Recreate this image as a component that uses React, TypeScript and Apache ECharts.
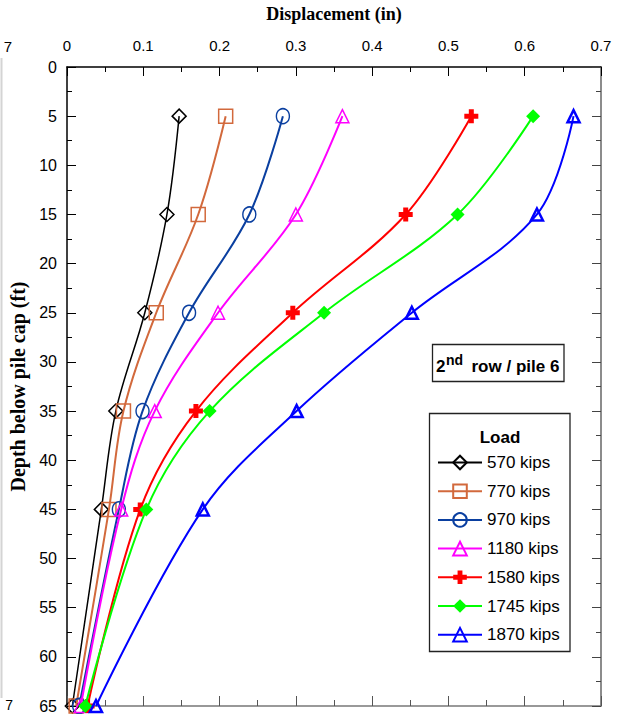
import React, { useEffect, useRef } from "react";
import * as echarts from "echarts";

const depths = [5, 15, 25, 35, 45, 65];
const d570 = [0.147, 0.131, 0.102, 0.064, 0.045, 0.007];
const d770 = [0.208, 0.172, 0.117, 0.074, 0.055, 0.012];
const d970 = [0.283, 0.239, 0.160, 0.099, 0.068, 0.016];
const d1180 = [0.361, 0.300, 0.198, 0.115, 0.071, 0.018];
const d1580 = [0.530, 0.444, 0.296, 0.169, 0.096, 0.027];
const d1745 = [0.611, 0.512, 0.337, 0.187, 0.104, 0.024];
const d1870 = [0.664, 0.616, 0.452, 0.301, 0.178, 0.038];
const loadNames = ["570 kips", "770 kips", "970 kips", "1180 kips", "1580 kips", "1745 kips", "1870 kips"];

const PLUS = "path://M4.5,0H9.5V4.5H14V9.5H9.5V14H4.5V9.5H0V4.5H4.5Z";

const SANS = "'Liberation Sans', Arial, sans-serif";
const SERIF = "'Liberation Serif', 'Times New Roman', serif";

export default function App() {
  const ref = useRef<HTMLDivElement>(null);
  useEffect(() => {
    const chart = echarts.init(ref.current!, null, { renderer: "svg" });
    const defs = [
      { vals: d570, color: "#000000", symbol: "diamond", size: [14, 14], fill: "transparent", bw: 1.5, lw: 1.5 },
      { vals: d770, color: "#D2693C", symbol: "rect", size: [14, 14], fill: "transparent", bw: 1.5, lw: 2 },
      { vals: d970, color: "#0A3FA0", symbol: "circle", size: [13, 15], fill: "transparent", bw: 1.5, lw: 2 },
      { vals: d1180, color: "#FF00FF", symbol: "triangle", size: [13, 13], fill: "transparent", bw: 1.5, lw: 2 },
      { vals: d1580, color: "#FF0000", symbol: PLUS, size: [14, 14], fill: "#FF0000", bw: 0, lw: 2 },
      { vals: d1745, color: "#00FF00", symbol: "diamond", size: [14, 14], fill: "#00FF00", bw: 0, lw: 2 },
      { vals: d1870, color: "#0000FF", symbol: "triangle", size: [12, 12], fill: "transparent", bw: 2.5, lw: 2 },
    ];
    const series = defs.map((d, i) => ({
      type: "line",
      name: loadNames[i],
      xAxisIndex: 0,
      yAxisIndex: 0,
      data: depths.map((dep, j) => [d.vals[j], dep]),
      smooth: 0.35,
      symbol: d.symbol,
      symbolSize: d.size,
      showAllSymbol: true,
      lineStyle: { color: d.color, width: d.lw },
      itemStyle: { color: d.fill, borderColor: d.color, borderWidth: d.bw },
      z: 3 + i,
    }));

    const tickCommon = {
      splitLine: { show: false },
      minorSplitLine: { show: false },
    };

    chart.setOption({
      animation: false,
      backgroundColor: "#ffffff",
      grid: { left: 67, right: 17, top: 67, bottom: 2, containLabel: false },
      xAxis: [
        {
          type: "value",
          position: "top",
          min: 0,
          max: 0.7,
          interval: 0.1,
          name: "Displacement (in)",
          nameLocation: "middle",
          nameGap: 44,
          nameTextStyle: { fontFamily: SERIF, fontWeight: "bold", fontSize: 18, color: "#000" },
          axisLine: { show: true, onZero: false, lineStyle: { color: "#000", width: 1.5 } },
          axisTick: { show: true, inside: true, length: 9, lineStyle: { color: "#000", width: 1 } },
          minorTick: { show: true, splitNumber: 2, length: 5, lineStyle: { color: "#000", width: 1 } },
          axisLabel: {
            margin: 14,
            fontFamily: SANS,
            fontSize: 15,
            color: "#000",
            formatter: (v: number) => String(Math.round(v * 10) / 10),
          },
          ...tickCommon,
        },
        {
          type: "value",
          position: "bottom",
          min: 0,
          max: 0.7,
          interval: 0.1,
          axisLine: { show: true, onZero: false, lineStyle: { color: "#777", width: 1.5 } },
          axisTick: { show: true, inside: true, length: 10, lineStyle: { color: "#555", width: 1 } },
          minorTick: { show: true, splitNumber: 2, length: 6, lineStyle: { color: "#555", width: 1 } },
          axisLabel: { show: false },
          ...tickCommon,
        },
      ],
      yAxis: [
        {
          type: "value",
          position: "left",
          inverse: true,
          min: 0,
          max: 65,
          interval: 5,
          name: "Depth below pile cap (ft)",
          nameLocation: "middle",
          nameGap: 38,
          nameRotate: 90,
          nameTextStyle: { fontFamily: SERIF, fontWeight: "bold", fontSize: 20, color: "#000" },
          axisLine: { show: true, onZero: false, lineStyle: { color: "#000", width: 1.5 } },
          axisTick: { show: true, inside: true, length: 9, lineStyle: { color: "#000", width: 1 } },
          minorTick: { show: true, splitNumber: 2, length: 5, lineStyle: { color: "#000", width: 1 } },
          axisLabel: { margin: 10, fontFamily: SANS, fontSize: 16, color: "#000" },
          ...tickCommon,
        },
        {
          type: "value",
          position: "right",
          inverse: true,
          min: 0,
          max: 65,
          interval: 5,
          axisLine: { show: true, onZero: false, lineStyle: { color: "#666", width: 1.5 } },
          axisTick: { show: true, inside: true, length: 9, lineStyle: { color: "#444", width: 1 } },
          minorTick: { show: true, splitNumber: 2, length: 5, lineStyle: { color: "#444", width: 1 } },
          axisLabel: { show: false },
          ...tickCommon,
        },
      ],
      legend: {
        data: loadNames,
        orient: "vertical",
        left: 437,
        top: 454,
        padding: 0,
        itemWidth: 44,
        itemHeight: 17,
        itemGap: 11.7,
        z: 80,
        textStyle: { fontFamily: SANS, fontSize: 17, color: "#000" },
      },
      graphic: [
        {
          type: "rect",
          shape: { x: 429.5, y: 413.5, width: 140.5, height: 238 },
          style: { fill: "none", stroke: "#222", lineWidth: 1.3 },
          z: 1,
        },
        {
          type: "text",
          x: 500,
          y: 437,
          style: { text: "Load", font: `bold 17px ${SANS}`, fill: "#000", align: "center", verticalAlign: "middle" },
          z: 51,
        },
        {
          type: "rect",
          shape: { x: 432.5, y: 344.5, width: 131.5, height: 37 },
          style: { fill: "#fff", stroke: "#222", lineWidth: 1.3 },
          z: 50,
        },
        {
          type: "text",
          x: 436,
          y: 366.5,
          style: { text: "2", font: `bold 17px ${SANS}`, fill: "#000", align: "left", verticalAlign: "middle" },
          z: 51,
        },
        {
          type: "text",
          x: 446,
          y: 360,
          style: { text: "nd", font: `bold 14px ${SANS}`, fill: "#000", align: "left", verticalAlign: "middle" },
          z: 51,
        },
        {
          type: "text",
          x: 471.5,
          y: 366.5,
          style: { text: "row / pile 6", font: `bold 17px ${SANS}`, fill: "#000", align: "left", verticalAlign: "middle" },
          z: 51,
        },
        {
          type: "line",
          shape: { x1: 1.5, y1: 58, x2: 1.5, y2: 698 },
          style: { stroke: "#d4d4d4", lineWidth: 2 },
        },
        {
          type: "text",
          x: 12,
          y: 46,
          style: { text: "7", font: `15px ${SANS}`, fill: "#000", align: "right", verticalAlign: "middle" },
        },
        {
          type: "text",
          x: 13,
          y: 705,
          style: { text: "7", font: `14px ${SANS}`, fill: "#000", align: "right", verticalAlign: "middle" },
        },
      ],
      series,
    });
    return () => chart.dispose();
  }, []);
  return (
    <div
      ref={ref}
      style={{ position: "fixed", left: 0, top: 0, width: 618, height: 714, background: "#fff" }}
    />
  );
}
